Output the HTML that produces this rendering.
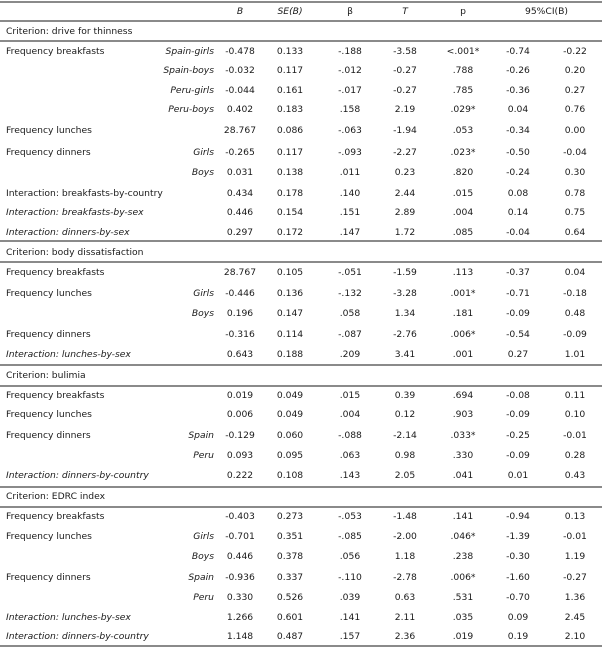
<!DOCTYPE html>
<html><head><meta charset="utf-8">
<style>
body{margin:0;background:#fff;}
#t{position:relative;width:602px;height:649px;font-family:"DejaVu Sans","Liberation Sans",sans-serif;font-size:9.2px;color:#1a1a1a;overflow:hidden}
.c{position:absolute;white-space:nowrap;line-height:12px;transform:translateY(-6px)}
.ln{position:absolute;left:0;width:602px;height:2px;background:#8a8a8a}
.i{font-style:italic}
</style></head><body>
<div id="t"></div>
<script>
const lines=[2,21,41,241,262,365,386,487,507,646];
const colX=[240,290,350,405,463,518,575];
const headers=["B","SE(B)","β","T","p","95%CI(B)"];
const rows=[
[32,"c","Criterion: drive for thinness"],
[52,"r","Frequency breakfasts","Spain-girls","-0.478","0.133","-.188","-3.58","<.001*","-0.74","-0.22"],
[71,"r","","Spain-boys","-0.032","0.117","-.012","-0.27",".788","-0.26","0.20"],
[91,"r","","Peru-girls","-0.044","0.161","-.017","-0.27",".785","-0.36","0.27"],
[110,"r","","Peru-boys","0.402","0.183",".158","2.19",".029*","0.04","0.76"],
[131,"r","Frequency lunches","","28.767","0.086","-.063","-1.94",".053","-0.34","0.00"],
[153,"r","Frequency dinners","Girls","-0.265","0.117","-.093","-2.27",".023*","-0.50","-0.04"],
[173,"r","","Boys","0.031","0.138",".011","0.23",".820","-0.24","0.30"],
[194,"r","Interaction: breakfasts-by-country","","0.434","0.178",".140","2.44",".015","0.08","0.78"],
[213,"ri","Interaction: breakfasts-by-sex","","0.446","0.154",".151","2.89",".004","0.14","0.75"],
[233,"ri","Interaction: dinners-by-sex","","0.297","0.172",".147","1.72",".085","-0.04","0.64"],
[253,"c","Criterion: body dissatisfaction"],
[273,"r","Frequency breakfasts","","28.767","0.105","-.051","-1.59",".113","-0.37","0.04"],
[294,"r","Frequency lunches","Girls","-0.446","0.136","-.132","-3.28",".001*","-0.71","-0.18"],
[314,"r","","Boys","0.196","0.147",".058","1.34",".181","-0.09","0.48"],
[335,"r","Frequency dinners","","-0.316","0.114","-.087","-2.76",".006*","-0.54","-0.09"],
[355,"ri","Interaction: lunches-by-sex","","0.643","0.188",".209","3.41",".001","0.27","1.01"],
[376,"c","Criterion: bulimia"],
[396,"r","Frequency breakfasts","","0.019","0.049",".015","0.39",".694","-0.08","0.11"],
[415,"r","Frequency lunches","","0.006","0.049",".004","0.12",".903","-0.09","0.10"],
[436,"r","Frequency dinners","Spain","-0.129","0.060","-.088","-2.14",".033*","-0.25","-0.01"],
[456,"r","","Peru","0.093","0.095",".063","0.98",".330","-0.09","0.28"],
[476,"ri","Interaction: dinners-by-country","","0.222","0.108",".143","2.05",".041","0.01","0.43"],
[497,"c","Criterion: EDRC index"],
[517,"r","Frequency breakfasts","","-0.403","0.273","-.053","-1.48",".141","-0.94","0.13"],
[537,"r","Frequency lunches","Girls","-0.701","0.351","-.085","-2.00",".046*","-1.39","-0.01"],
[557,"r","","Boys","0.446","0.378",".056","1.18",".238","-0.30","1.19"],
[578,"r","Frequency dinners","Spain","-0.936","0.337","-.110","-2.78",".006*","-1.60","-0.27"],
[598,"r","","Peru","0.330","0.526",".039","0.63",".531","-0.70","1.36"],
[618,"ri","Interaction: lunches-by-sex","","1.266","0.601",".141","2.11",".035","0.09","2.45"],
[637,"ri","Interaction: dinners-by-country","","1.148","0.487",".157","2.36",".019","0.19","2.10"]
];
const t=document.getElementById('t');
function cell(txt,x,y,align,cls,name){
  const d=document.createElement('div');
  d.className='c '+(cls||'');
  d.textContent=txt;
  d.style.top=y+'px';
  if(align==='l'){d.style.left=x+'px';}
  else if(align==='r'){d.style.right=(602-x)+'px';}
  else{d.style.left=x+'px';d.style.transform='translate(-50%,-6px)';}
  
  
  t.appendChild(d);
}
lines.forEach(y=>{const l=document.createElement('div');l.className='ln';l.style.top=(y-1)+'px';
  
  
  t.appendChild(l);});
headers.forEach((h,i)=>{
  const x=i<5?colX[i]:(colX[5]+colX[6])/2;
  cell(h,x,12,'c',(i==0||i==1||i==3)?'i':'','header-'+i);
});
rows.forEach(r=>{
  const y=r[0];
  if(r[1]==='c'){cell(r[2],6,y,'l','','criterion-heading');return;}
  cell(r[2],6,y,'l',r[1]==='ri'?'i':'','row-label');
  if(r[3])cell(r[3],214,y,'r','i','subgroup-label');
  for(let k=0;k<7;k++)cell(r[4+k],colX[k],y,'c','','value-cell');
});
</script>
</body></html>
